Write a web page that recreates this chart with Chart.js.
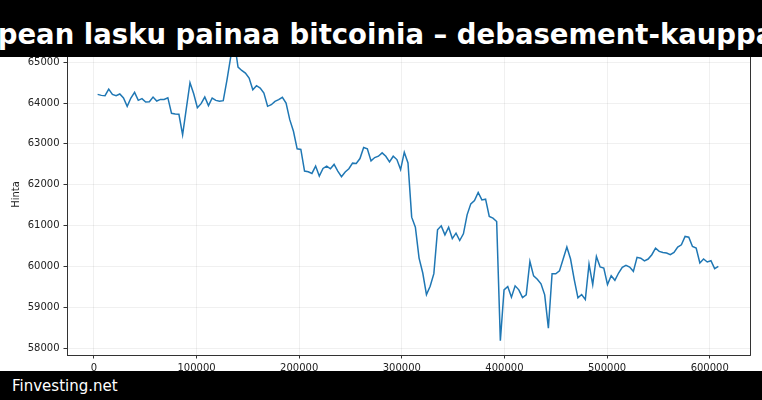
<!DOCTYPE html>
<html>
<head>
<meta charset="utf-8">
<script src="https://cdn.jsdelivr.net/npm/chart.js@4/dist/chart.umd.min.js"></script>
<style>
  html, body { margin:0; padding:0; background:#fff; }
  #wrap { position:relative; width:762px; height:400px; overflow:hidden; }
  canvas { position:absolute; left:0; top:0; }
  #banner { position:absolute; left:0; top:0; width:762px; height:57px; background:#000; overflow:hidden; }
  #banner .t { position:absolute; left:-639px; width:2050px; top:15px; text-align:center; white-space:nowrap;
    font-family:"DejaVu Sans", sans-serif; font-weight:bold; font-size:27.5px; line-height:38px; color:#fff; }
  #footer { position:absolute; left:0; top:371px; width:762px; height:29px; background:#000; }
  #footer .f { position:absolute; left:12px; top:6px; font-family:"DejaVu Sans", sans-serif; font-size:15px; line-height:18px; color:#fff; }
</style>
</head>
<body>
<div id="wrap">
  <canvas id="c" width="762" height="400"></canvas>
  <div id="banner"><div class="t">pean lasku painaa bitcoinia – debasement-kauppa</div></div>
  <div id="footer"><div class="f">Finvesting.net</div></div>
</div>
<script>
const titleText = "pean lasku painaa bitcoinia – debasement-kauppa";
const yAxisTitle = "Hinta";
const sourceText = "Finvesting.net";

const xTicks = [0, 100000, 200000, 300000, 400000, 500000, 600000];
const yTicks = [58000, 59000, 60000, 61000, 62000, 63000, 64000, 65000];

const xValues = [3600, 7200, 10800, 14400, 18000, 21600, 25200, 28800, 32400, 36000,
 39600, 43200, 46800, 50400, 54000, 57600, 61200, 64800, 68400, 72000,
 75600, 79200, 82800, 86400, 90000, 93600, 97200, 100800, 104400, 108000,
 111600, 115200, 118800, 122400, 126000, 129600, 133200, 136800, 140400, 144000,
 147600, 151200, 154800, 158400, 162000, 165600, 169200, 172800, 176400, 180000,
 183600, 187200, 190800, 194400, 198000, 201600, 205200, 208800, 212400, 216000,
 219600, 223200, 226800, 230400, 234000, 237600, 241200, 244800, 248400, 252000,
 255600, 259200, 262800, 266400, 270000, 273600, 277200, 280800, 284400, 288000,
 291600, 295200, 298800, 302400, 306000, 309600, 313200, 316800, 320400, 324000,
 327600, 331200, 334800, 338400, 342000, 345600, 349200, 352800, 356400, 360000,
 363600, 367200, 370800, 374400, 378000, 381600, 385200, 388800, 392400, 396000,
 399600, 403200, 406800, 410400, 414000, 417600, 421200, 424800, 428400, 432000,
 435600, 439200, 442800, 446400, 450000, 453600, 457200, 460800, 464400, 468000,
 471600, 475200, 478800, 482400, 486000, 489600, 493200, 496800, 500400, 504000,
 507600, 511200, 514800, 518400, 522000, 525600, 529200, 532800, 536400, 540000,
 543600, 547200, 550800, 554400, 558000, 561600, 565200, 568800, 572400, 576000,
 579600, 583200, 586800, 590400, 594000, 597600, 601200, 604800, 608400];

const prices = [64211, 64187, 64179, 64341, 64211, 64179, 64220, 64122, 63919, 64122,
 64260, 64065, 64106, 64024, 64033, 64146, 64049, 64089, 64089, 64130,
 63748, 63732, 63724, 63220, 63862, 64496, 64228, 63886, 63984, 64146,
 63935, 64122, 64065, 64041, 64057, 64560, 65120, 65500, 64880, 64797,
 64732, 64610, 64325, 64423, 64366, 64244, 63919, 63959, 64041, 64081,
 64138, 64000, 63593, 63309, 62878, 62862, 62333, 62317, 62276, 62455,
 62211, 62398, 62455, 62390, 62496, 62333, 62195, 62310, 62390, 62527,
 62517, 62640, 62910, 62877, 62582, 62664, 62697, 62779, 62697, 62558,
 62697, 62615, 62369, 62795, 62533, 61205, 60960, 60203, 59837, 59309,
 59512, 59821, 60894, 60992, 60772, 60960, 60680, 60812, 60633, 60796,
 61261, 61530, 61612, 61808, 61628, 61645, 61220, 61180, 61098, 58177,
 59425, 59507, 59246, 59523, 59425, 59237, 59303, 60119, 59768, 59686,
 59572, 59303, 58487, 59817, 59817, 59888, 60179, 60472, 60179, 59675,
 59228, 59309, 59187, 60057, 59553, 60244, 59984, 59959, 59553, 59772,
 59659, 59837, 59976, 60024, 59984, 59878, 60220, 60200, 60135, 60179,
 60285, 60447, 60366, 60341, 60325, 60285, 60341, 60472, 60528, 60732,
 60715, 60488, 60447, 60081, 60179, 60106, 60138, 59943, 60000];

const tickFont = { family: "DejaVu Sans", size: 10 };
const rightSpine = {
  id: 'rightSpine',
  afterDraw(chart) {
    const { ctx, chartArea: a } = chart;
    ctx.save();
    ctx.strokeStyle = '#333';
    ctx.lineWidth = 1;
    ctx.beginPath();
    ctx.moveTo(Math.round(a.right) + 0.5, a.top);
    ctx.lineTo(Math.round(a.right) + 0.5, a.bottom);
    ctx.stroke();
    ctx.restore();
  }
};

new Chart(document.getElementById('c'), {
  type: 'line',
  data: {
    datasets: [{
      label: 'Hinta',
      data: xValues.map((x, i) => ({ x: x, y: prices[i] })),
      borderColor: '#1f77b4',
      borderWidth: 1.5,
      pointRadius: 0,
      tension: 0,
      fill: false
    }]
  },
  options: {
    responsive: false,
    animation: false,
    layout: { padding: { left: 0, right: 12, top: 34, bottom: 0 } },
    plugins: { legend: { display: false }, tooltip: { enabled: false } },
    scales: {
      x: {
        type: 'linear',
        min: -26250,
        max: 639250,
        afterBuildTicks: s => { s.ticks = xTicks.map(v => ({ value: v })); },
        afterFit: s => { s.height = 45; },
        ticks: { font: tickFont, color: '#222', padding: 4, maxRotation: 0, autoSkip: false,
                 callback: v => String(v) },
        grid: { color: 'rgba(0,0,0,0.08)', lineWidth: 0.8, tickColor: '#333', tickLength: 3.5, tickWidth: 1 },
        border: { color: '#333', width: 1 }
      },
      y: {
        type: 'linear',
        min: 57829,
        max: 65690,
        afterBuildTicks: s => { s.ticks = yTicks.map(v => ({ value: v })); },
        afterFit: s => { s.width = 67; },
        ticks: { font: tickFont, color: '#222', padding: 4, autoSkip: false,
                 callback: v => String(v) },
        grid: { color: 'rgba(0,0,0,0.08)', lineWidth: 0.8, tickColor: '#333', tickLength: 3.5, tickWidth: 1 },
        border: { color: '#333', width: 1 },
        title: { display: true, text: yAxisTitle, font: tickFont, color: '#222', padding: { top: 10, bottom: 0 } }
      }
    }
  },
  plugins: [rightSpine]
});
</script>
</body>
</html>
